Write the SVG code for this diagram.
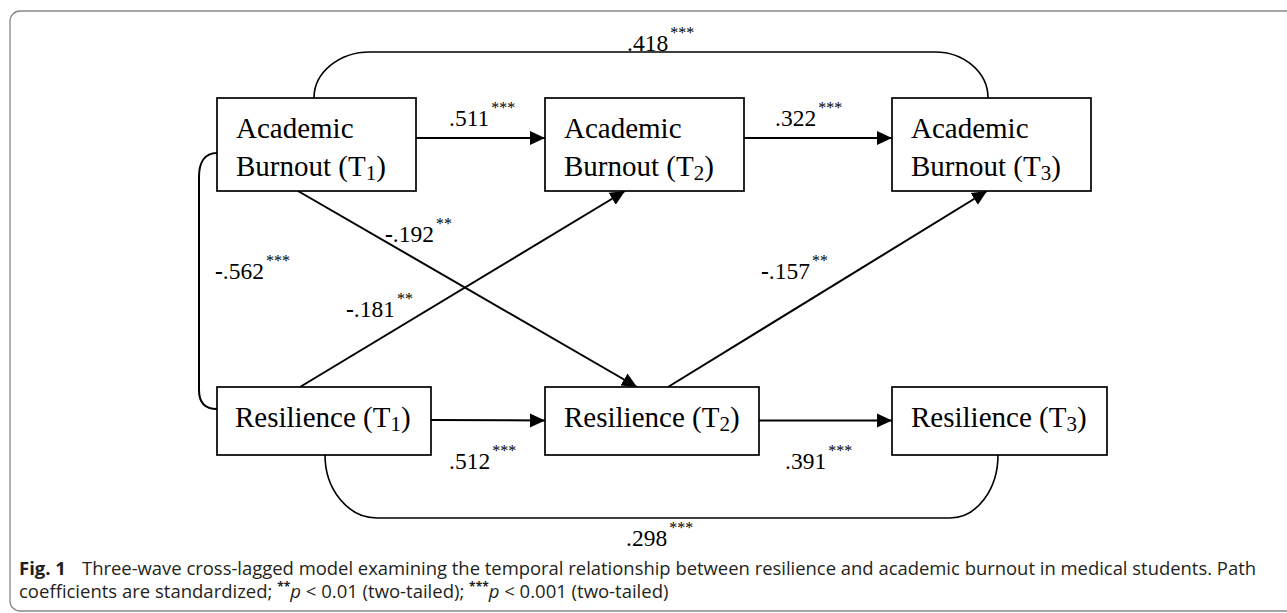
<svg xmlns="http://www.w3.org/2000/svg" width="1287" height="613" viewBox="0 0 1287 613">
<style>
.box{fill:#fff;stroke:#000;stroke-width:1.7}
.t{font-family:"Liberation Serif","Times New Roman",serif;font-size:29px;fill:#000}
.sub{font-size:21px}
.lbl{font-family:"Liberation Serif","Times New Roman",serif;font-size:23.5px;fill:#000}
.sup{font-size:16px}
.neg{font-weight:bold}
.ln{fill:none;stroke:#000;stroke-width:2}
.cv{fill:none;stroke:#000;stroke-width:1.6}
.cap{font-family:"Open Sans","Noto Sans",sans-serif;font-size:18.5px;fill:#231f20}
</style>
<defs>
<marker id="ah" markerUnits="userSpaceOnUse" markerWidth="16" markerHeight="16" viewBox="0 0 16 16" refX="15" refY="8" orient="auto">
<path d="M0,1 L15,8 L0,15 Z" fill="#000"/>
</marker>
</defs>
<rect x="10" y="11" width="1300" height="600" rx="10" ry="10" fill="#fff" stroke="#888" stroke-width="1.3"/>

<g id="connectors">
<path class="cv" d="M314,98 A56,46 0 0 1 370,52 L935,52 A53,46 0 0 1 988,98"/>
<path class="cv" d="M325,455 A52,63 0 0 0 377,518 L950,518 A48,63 0 0 0 998,455"/>
<path class="ln" d="M217,153 C205,153 199,162 199,177 L199,390 C199,402 205,409 217,409"/>
<path class="ln" d="M416,138 L545,138" marker-end="url(#ah)"/>
<path class="ln" d="M744,138 L892,138" marker-end="url(#ah)"/>
<path class="ln" d="M431,420 L545,420.5" marker-end="url(#ah)"/>
<path class="ln" d="M759,420.5 L892,420.5" marker-end="url(#ah)"/>
<path class="ln" d="M298,191 L637,387" marker-end="url(#ah)"/>
<path class="ln" d="M300,387 L625,191" marker-end="url(#ah)"/>
<path class="ln" d="M668,387 L987,191" marker-end="url(#ah)"/>
</g>

<g id="ab1">
<rect class="box" x="217" y="98" width="199" height="93"/>
<text class="t" x="236" y="138">Academic</text>
<text class="t" x="236" y="176">Burnout (T<tspan class="sub" dy="4">1</tspan><tspan dy="-4">)</tspan></text>
</g>
<g id="ab2">
<rect class="box" x="545" y="98" width="199" height="93"/>
<text class="t" x="564" y="138">Academic</text>
<text class="t" x="564" y="176">Burnout (T<tspan class="sub" dy="4">2</tspan><tspan dy="-4">)</tspan></text>
</g>
<g id="ab3">
<rect class="box" x="892" y="98" width="199" height="93"/>
<text class="t" x="911" y="138">Academic</text>
<text class="t" x="911" y="176">Burnout (T<tspan class="sub" dy="4">3</tspan><tspan dy="-4">)</tspan></text>
</g>
<g id="res1">
<rect class="box" x="217" y="387" width="214" height="68"/>
<text class="t" x="235" y="427">Resilience (T<tspan class="sub" dy="4">1</tspan><tspan dy="-4">)</tspan></text>
</g>
<g id="res2">
<rect class="box" x="545" y="387" width="214" height="68"/>
<text class="t" x="564" y="427">Resilience (T<tspan class="sub" dy="4">2</tspan><tspan dy="-4">)</tspan></text>
</g>
<g id="res3">
<rect class="box" x="892" y="387" width="215" height="68"/>
<text class="t" x="911" y="427">Resilience (T<tspan class="sub" dy="4">3</tspan><tspan dy="-4">)</tspan></text>
</g>

<g id="labels">
<text class="lbl" x="627" y="51">.418<tspan class="sup" dx="2" dy="-13">***</tspan></text>
<text class="lbl" x="449" y="126">.511<tspan class="sup" dx="2" dy="-13">***</tspan></text>
<text class="lbl" x="775" y="126">.322<tspan class="sup" dx="2" dy="-13">***</tspan></text>
<text class="lbl" x="215" y="279"><tspan class="neg">-</tspan>.562<tspan class="sup" dx="2" dy="-13">***</tspan></text>
<text class="lbl" x="385" y="242"><tspan class="neg">-</tspan>.192<tspan class="sup" dx="2" dy="-13">**</tspan></text>
<text class="lbl" x="346" y="317"><tspan class="neg">-</tspan>.181<tspan class="sup" dx="2" dy="-13">**</tspan></text>
<text class="lbl" x="761" y="279"><tspan class="neg">-</tspan>.157<tspan class="sup" dx="2" dy="-13">**</tspan></text>
<text class="lbl" x="449" y="469">.512<tspan class="sup" dx="2" dy="-13">***</tspan></text>
<text class="lbl" x="785" y="469">.391<tspan class="sup" dx="2" dy="-13">***</tspan></text>
<text class="lbl" x="626" y="546">.298<tspan class="sup" dx="2" dy="-13">***</tspan></text>
</g>

<g id="caption">
<text class="cap" x="19" y="575" font-weight="bold">Fig. 1</text>
<text class="cap" x="82" y="575" textLength="1174" lengthAdjust="spacingAndGlyphs">Three-wave cross-lagged model examining the temporal relationship between resilience and academic burnout in medical students. Path</text>
<text class="cap" x="19" y="598">coefficients are standardized; <tspan font-size="12" font-weight="bold" dy="-7">**</tspan><tspan font-style="italic" dy="7">p</tspan> &lt; 0.01 (two-tailed); <tspan font-size="12" font-weight="bold" dy="-7">***</tspan><tspan font-style="italic" dy="7">p</tspan> &lt; 0.001 (two-tailed)</text>
</g>
</svg>
